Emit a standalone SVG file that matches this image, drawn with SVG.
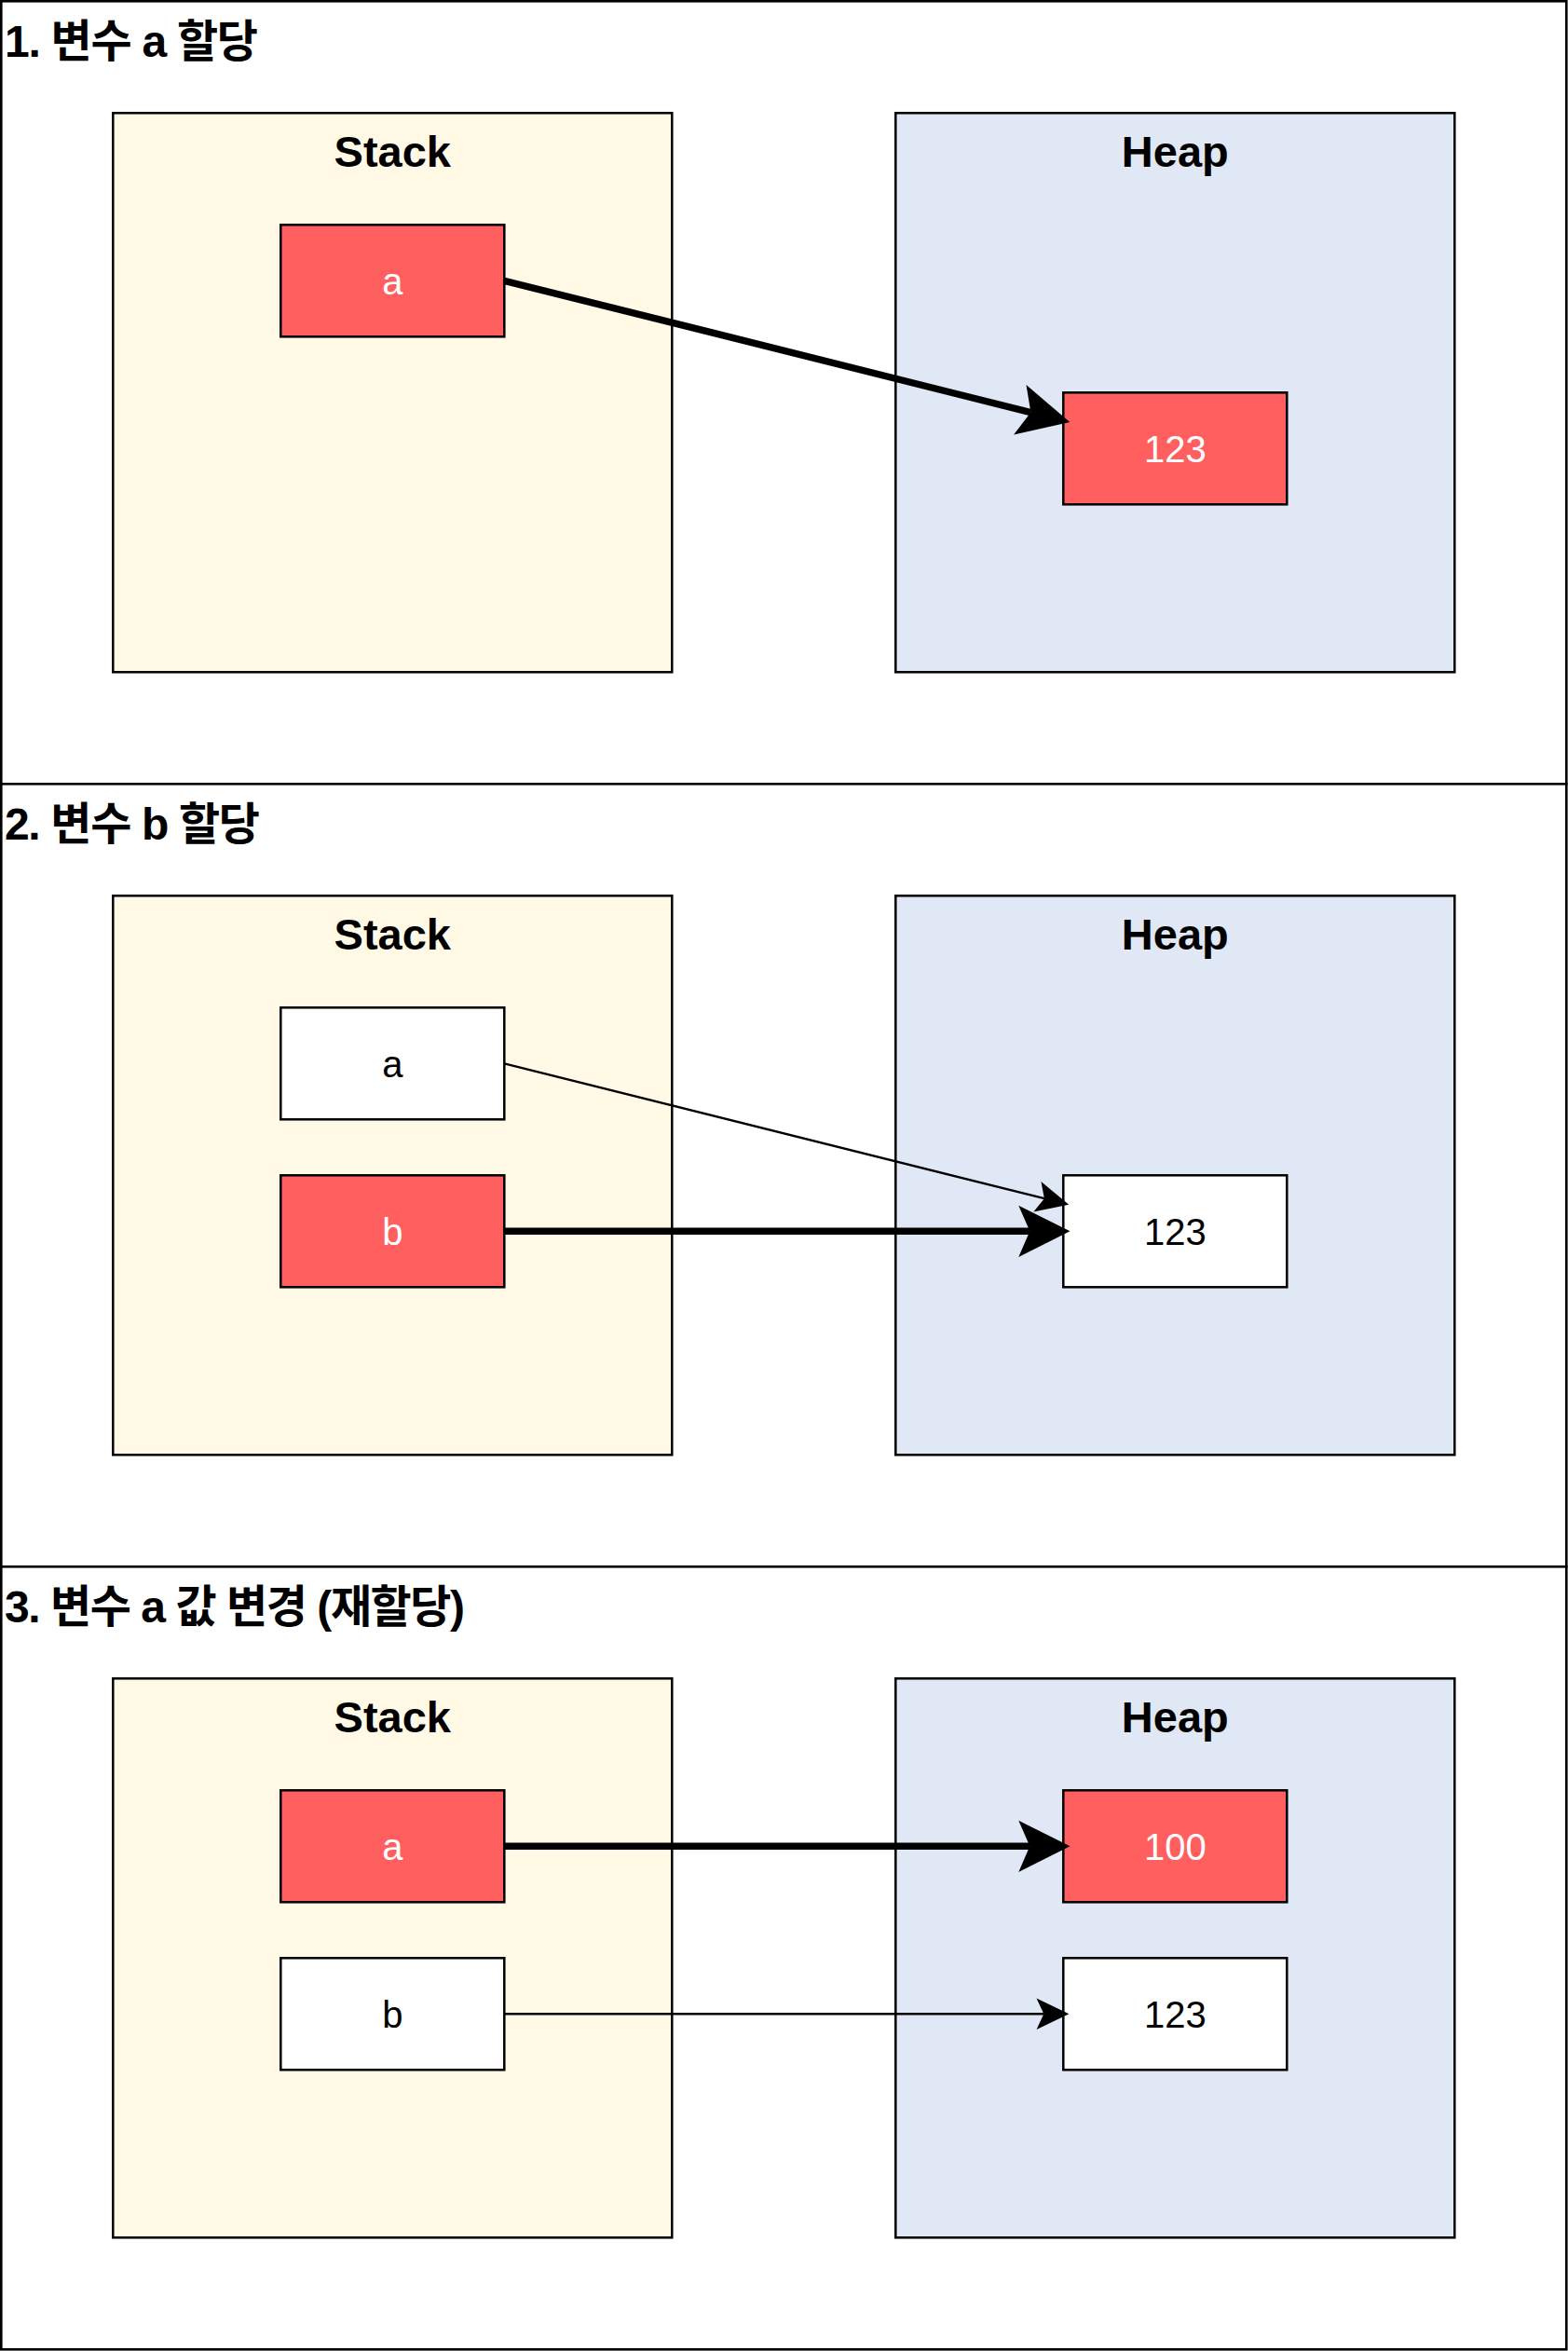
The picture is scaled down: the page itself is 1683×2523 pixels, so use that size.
<svg xmlns="http://www.w3.org/2000/svg" width="1683" height="2523" viewBox="0 0 1683 2523">
  <style>
    .frame { fill: #ffffff; stroke: #000000; stroke-width: 2.6; }
    .stack { fill: #FFF9E5; stroke: #000000; stroke-width: 2.5; }
    .heap { fill: #E1E8F5; stroke: #000000; stroke-width: 2.5; }
    .red { fill: #FF5F5F; stroke: #000000; stroke-width: 2.5; }
    .white { fill: #ffffff; stroke: #000000; stroke-width: 2.5; }
    .title { font-family: "Liberation Sans", "Noto Sans CJK KR", sans-serif; font-weight: bold; font-size: 48px; fill: #000000; }
    .head { font-family: "Liberation Sans", "Noto Sans CJK KR", sans-serif; font-weight: bold; font-size: 47px; fill: #000000; text-anchor: middle; }
    .lbl { font-family: "Liberation Sans", "Noto Sans CJK KR", sans-serif; font-size: 40px; text-anchor: middle; }
    .lw { fill: #ffffff; }
    .lb { fill: #000000; }
    .thick { fill: none; stroke: #000000; stroke-width: 7.5; marker-end: url(#arrowThick); }
    .thin { fill: none; stroke: #000000; stroke-width: 2.4; marker-end: url(#arrowThin); }
  </style>
  <defs>
    <marker id="arrowThick" markerUnits="userSpaceOnUse" orient="auto" refX="0" refY="0" markerWidth="60" markerHeight="60" viewBox="-12 -25 50 50" overflow="visible">
      <path d="M0,0 L-10,-23 L36,0 L-10,23 Z" fill="#000000" stroke="none"/>
    </marker>
    <marker id="arrowThin" markerUnits="userSpaceOnUse" orient="auto" refX="0" refY="0" markerWidth="40" markerHeight="40" viewBox="-8 -15 31 30" overflow="visible">
      <path d="M0,0 L-6,-13 L21,0 L-6,13 Z" fill="#000000" stroke="none"/>
    </marker>
  </defs>

  <!-- Section 1 -->
  <g id="section1">
    <rect class="frame" x="1.3" y="1.3" width="1680" height="840"/>
    <text class="title" x="5" y="61" textLength="272" lengthAdjust="spacing">1. 변수 a 할당</text>
  </g>
  <g id="s1-stack">
    <rect class="stack" x="121.3" y="121.3" width="600" height="600"/>
    <text class="head" x="421.3" y="179">Stack</text>
  </g>
  <g id="s1-heap">
    <rect class="heap" x="961.3" y="121.3" width="600" height="600"/>
    <text class="head" x="1261.3" y="179">Heap</text>
  </g>
  <g id="s1-a">
    <rect class="red" x="301.3" y="241.3" width="240" height="120"/>
    <text class="lbl lw" x="421.3" y="315.5">a</text>
  </g>
  <g id="s1-123">
    <rect class="red" x="1141.3" y="421.3" width="240" height="120"/>
    <text class="lbl lw" x="1261.3" y="495.5">123</text>
  </g>

  <!-- Section 2 -->
  <g id="section2">
    <rect class="frame" x="1.3" y="841.3" width="1680" height="840"/>
    <text class="title" x="5" y="901" textLength="274" lengthAdjust="spacing">2. 변수 b 할당</text>
  </g>
  <g id="s2-stack">
    <rect class="stack" x="121.3" y="961.3" width="600" height="600"/>
    <text class="head" x="421.3" y="1019">Stack</text>
  </g>
  <g id="s2-heap">
    <rect class="heap" x="961.3" y="961.3" width="600" height="600"/>
    <text class="head" x="1261.3" y="1019">Heap</text>
  </g>
  <g id="s2-a">
    <rect class="white" x="301.3" y="1081.3" width="240" height="120"/>
    <text class="lbl lb" x="421.3" y="1155.5">a</text>
  </g>
  <g id="s2-b">
    <rect class="red" x="301.3" y="1261.3" width="240" height="120"/>
    <text class="lbl lw" x="421.3" y="1335.5">b</text>
  </g>
  <g id="s2-123">
    <rect class="white" x="1141.3" y="1261.3" width="240" height="120"/>
    <text class="lbl lb" x="1261.3" y="1335.5">123</text>
  </g>

  <!-- Section 3 -->
  <g id="section3">
    <rect class="frame" x="1.3" y="1681.3" width="1680" height="840"/>
    <text class="title" x="5" y="1741" textLength="494" lengthAdjust="spacing">3. 변수 a 값 변경 (재할당)</text>
  </g>
  <g id="s3-stack">
    <rect class="stack" x="121.3" y="1801.3" width="600" height="600"/>
    <text class="head" x="421.3" y="1859">Stack</text>
  </g>
  <g id="s3-heap">
    <rect class="heap" x="961.3" y="1801.3" width="600" height="600"/>
    <text class="head" x="1261.3" y="1859">Heap</text>
  </g>
  <g id="s3-a">
    <rect class="red" x="301.3" y="1921.3" width="240" height="120"/>
    <text class="lbl lw" x="421.3" y="1995.5">a</text>
  </g>
  <g id="s3-b">
    <rect class="white" x="301.3" y="2101.3" width="240" height="120"/>
    <text class="lbl lb" x="421.3" y="2175.5">b</text>
  </g>
  <g id="s3-100">
    <rect class="red" x="1141.3" y="1921.3" width="240" height="120"/>
    <text class="lbl lw" x="1261.3" y="1995.5">100</text>
  </g>
  <g id="s3-123">
    <rect class="white" x="1141.3" y="2101.3" width="240" height="120"/>
    <text class="lbl lb" x="1261.3" y="2175.5">123</text>
  </g>

  <!-- Connectors -->
  <g id="connectors">
    <path class="thick" d="M541.3,301.3 L1106.4,442.6"/>
    <path class="thin" d="M541.3,1141.3 L1120.9,1286.2"/>
    <path class="thick" d="M541.3,1321.3 L1105.3,1321.3"/>
    <path class="thick" d="M541.3,1981.3 L1105.3,1981.3"/>
    <path class="thin" d="M541.3,2161.3 L1120.3,2161.3"/>
  </g>
</svg>
